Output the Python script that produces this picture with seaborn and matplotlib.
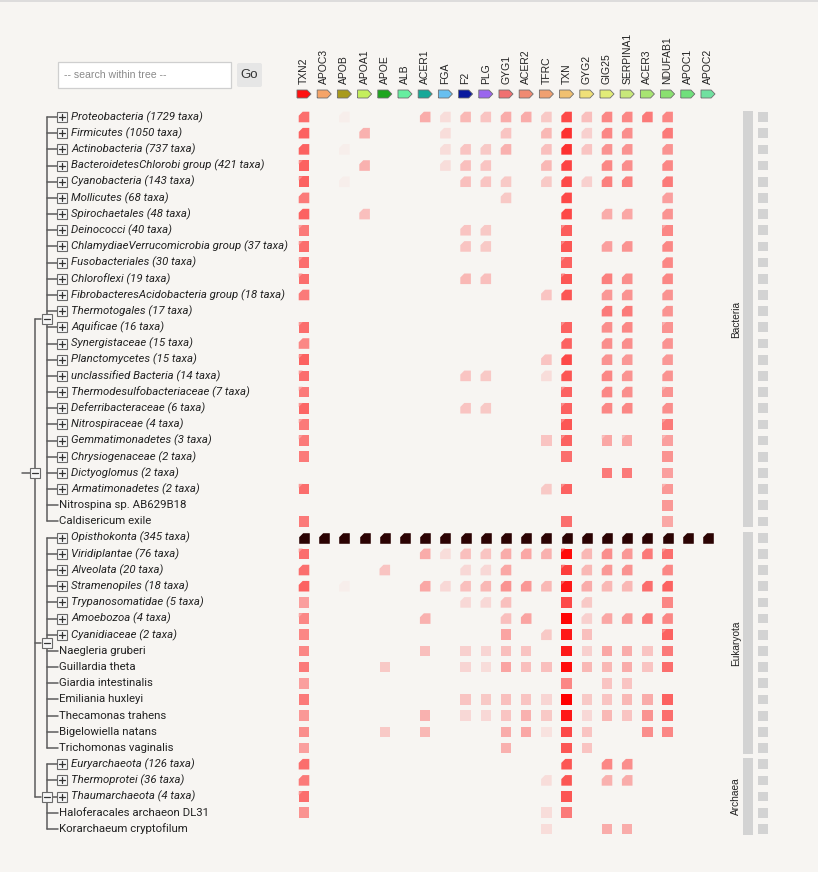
import numpy as np
import pandas as pd
import matplotlib
matplotlib.use("Agg")
import matplotlib.pyplot as plt
from matplotlib.colors import LinearSegmentedColormap
from matplotlib.patches import Rectangle, FancyBboxPatch
import seaborn as sns

# ---------------- data ----------------
genes = ["TXN2", "APOC3", "APOB", "APOA1", "APOE", "ALB", "ACER1", "FGA", "F2", "PLG",
         "GYG1", "ACER2", "TFRC", "TXN", "GYG2", "GIG25", "SERPINA1", "ACER3", "NDUFAB1",
         "APOC1", "APOC2"]
gene_colors = ["#ff1010", "#f5a468", "#a89a1c", "#c4ee5c", "#1ea51e", "#66eea0", "#18a898",
               "#68bff0", "#0a1a9e", "#9a66ee", "#f07070", "#f08a72", "#f0a070", "#f0c070",
               "#f0e078", "#e2ec78", "#c8e87a", "#a8e472", "#8ae070", "#70e07c", "#70e0a0"]

taxa = ["Proteobacteria (1729 taxa)", "Firmicutes (1050 taxa)", "Actinobacteria (737 taxa)",
        "BacteroidetesChlorobi group (421 taxa)", "Cyanobacteria (143 taxa)", "Mollicutes (68 taxa)",
        "Spirochaetales (48 taxa)", "Deinococci (40 taxa)", "ChlamydiaeVerrucomicrobia group (37 taxa)",
        "Fusobacteriales (30 taxa)", "Chloroflexi (19 taxa)", "FibrobacteresAcidobacteria group (18 taxa)",
        "Thermotogales (17 taxa)", "Aquificae (16 taxa)", "Synergistaceae (15 taxa)",
        "Planctomycetes (15 taxa)", "unclassified Bacteria (14 taxa)", "Thermodesulfobacteriaceae (7 taxa)",
        "Deferribacteraceae (6 taxa)", "Nitrospiraceae (4 taxa)", "Gemmatimonadetes (3 taxa)",
        "Chrysiogenaceae (2 taxa)", "Dictyoglomus (2 taxa)", "Armatimonadetes (2 taxa)",
        "Nitrospina sp. AB629B18", "Caldisericum exile",
        "Opisthokonta (345 taxa)", "Viridiplantae (76 taxa)", "Alveolata (20 taxa)",
        "Stramenopiles (18 taxa)", "Trypanosomatidae (5 taxa)", "Amoebozoa (4 taxa)",
        "Cyanidiaceae (2 taxa)", "Naegleria gruberi", "Guillardia theta", "Giardia intestinalis",
        "Emiliania huxleyi", "Thecamonas trahens", "Bigelowiella natans", "Trichomonas vaginalis",
        "Euryarchaeota (126 taxa)", "Thermoprotei (36 taxa)", "Thaumarchaeota (4 taxa)",
        "Haloferacales archaeon DL31", "Korarchaeum cryptofilum"]

domains = ["Bacteria", "Eukaryota", "Archaea"]
domain_sizes = [26, 14, 5]
highlight_taxon = "Opisthokonta (345 taxa)"

# score (0-100) per taxon, columns in the order of `genes`
values = [
    [55, 0, 3, 0, 0, 0, 30, 10, 25, 20, 30, 30, 18, 70, 22, 45, 45, 50, 45, 0, 0],
    [60, 0, 0, 28, 0, 0, 0, 10, 0, 0, 20, 0, 25, 80, 15, 45, 42, 0, 50, 0, 0],
    [60, 0, 3, 0, 0, 0, 0, 10, 20, 18, 28, 0, 22, 80, 20, 40, 40, 0, 40, 0, 0],
    [60, 0, 0, 28, 0, 0, 0, 10, 22, 20, 0, 0, 25, 72, 0, 45, 42, 0, 45, 0, 0],
    [60, 0, 3, 0, 0, 0, 0, 0, 22, 20, 18, 0, 18, 70, 15, 48, 48, 0, 50, 0, 0],
    [50, 0, 0, 0, 0, 0, 0, 0, 0, 0, 18, 0, 0, 70, 0, 0, 0, 0, 35, 0, 0],
    [60, 0, 0, 22, 0, 0, 0, 0, 0, 0, 0, 0, 0, 70, 0, 30, 32, 0, 40, 0, 0],
    [50, 0, 0, 0, 0, 0, 0, 0, 20, 18, 0, 0, 0, 62, 0, 0, 0, 0, 45, 0, 0],
    [55, 0, 0, 0, 0, 0, 0, 0, 20, 18, 0, 0, 0, 65, 0, 35, 40, 0, 45, 0, 0],
    [55, 0, 0, 0, 0, 0, 0, 0, 0, 0, 0, 0, 0, 60, 0, 0, 0, 0, 45, 0, 0],
    [55, 0, 0, 0, 0, 0, 0, 0, 25, 22, 0, 0, 0, 65, 0, 48, 42, 0, 45, 0, 0],
    [50, 0, 0, 0, 0, 0, 0, 0, 0, 0, 0, 0, 20, 65, 0, 38, 40, 0, 40, 0, 0],
    [0, 0, 0, 0, 0, 0, 0, 0, 0, 0, 0, 0, 0, 0, 0, 50, 50, 0, 40, 0, 0],
    [55, 0, 0, 0, 0, 0, 0, 0, 0, 0, 0, 0, 0, 60, 0, 42, 45, 0, 40, 0, 0],
    [45, 0, 0, 0, 0, 0, 0, 0, 0, 0, 0, 0, 0, 60, 0, 42, 42, 0, 40, 0, 0],
    [60, 0, 0, 0, 0, 0, 0, 0, 0, 0, 0, 0, 20, 70, 0, 40, 38, 0, 38, 0, 0],
    [55, 0, 0, 0, 0, 0, 0, 0, 20, 18, 0, 0, 10, 65, 0, 45, 40, 0, 40, 0, 0],
    [50, 0, 0, 0, 0, 0, 0, 0, 0, 0, 0, 0, 0, 60, 0, 45, 42, 0, 40, 0, 0],
    [58, 0, 0, 0, 0, 0, 0, 0, 20, 18, 0, 0, 0, 60, 0, 45, 45, 0, 42, 0, 0],
    [50, 0, 0, 0, 0, 0, 0, 0, 0, 0, 0, 0, 0, 65, 0, 0, 0, 0, 50, 0, 0],
    [50, 0, 0, 0, 0, 0, 0, 0, 0, 0, 0, 0, 20, 60, 0, 32, 32, 0, 35, 0, 0],
    [50, 0, 0, 0, 0, 0, 0, 0, 0, 0, 0, 0, 0, 55, 0, 0, 0, 0, 40, 0, 0],
    [0, 0, 0, 0, 0, 0, 0, 0, 0, 0, 0, 0, 0, 0, 0, 50, 50, 0, 35, 0, 0],
    [55, 0, 0, 0, 0, 0, 0, 0, 0, 0, 0, 0, 18, 60, 0, 0, 0, 0, 38, 0, 0],
    [0, 0, 0, 0, 0, 0, 0, 0, 0, 0, 0, 0, 0, 0, 0, 0, 0, 0, 38, 0, 0],
    [50, 0, 0, 0, 0, 0, 0, 0, 0, 0, 0, 0, 0, 55, 0, 0, 0, 0, 32, 0, 0],
    [100, 100, 100, 100, 100, 100, 100, 100, 100, 100, 100, 100, 100, 100, 100, 100, 100, 100, 100, 100, 100],
    [55, 0, 0, 0, 0, 0, 30, 10, 22, 20, 30, 32, 28, 95, 25, 42, 38, 50, 55, 0, 0],
    [55, 0, 0, 0, 20, 0, 0, 0, 12, 12, 32, 0, 0, 75, 25, 38, 40, 0, 45, 0, 0],
    [60, 0, 3, 0, 0, 0, 32, 12, 22, 25, 40, 38, 25, 90, 30, 25, 25, 55, 60, 0, 0],
    [35, 0, 0, 0, 0, 0, 0, 0, 12, 12, 22, 0, 0, 70, 18, 0, 0, 0, 45, 0, 0],
    [45, 0, 0, 0, 0, 0, 28, 0, 0, 0, 22, 33, 0, 98, 15, 32, 38, 50, 45, 0, 0],
    [45, 0, 0, 0, 0, 0, 0, 0, 0, 0, 33, 0, 18, 90, 22, 0, 0, 0, 60, 0, 0],
    [45, 0, 0, 0, 0, 0, 22, 0, 15, 13, 22, 20, 0, 90, 15, 32, 30, 20, 50, 0, 0],
    [50, 0, 0, 0, 18, 0, 0, 0, 13, 10, 33, 22, 22, 95, 25, 25, 30, 20, 55, 0, 0],
    [35, 0, 0, 0, 0, 0, 0, 0, 0, 0, 0, 0, 0, 45, 0, 20, 20, 0, 0, 0, 0],
    [50, 0, 0, 0, 0, 0, 0, 0, 20, 18, 22, 20, 13, 100, 18, 20, 25, 30, 60, 0, 0],
    [38, 0, 0, 0, 0, 0, 28, 0, 12, 12, 20, 28, 18, 90, 12, 25, 20, 40, 55, 0, 0],
    [42, 0, 0, 0, 18, 0, 25, 0, 0, 0, 30, 32, 8, 70, 20, 0, 0, 42, 45, 0, 0],
    [35, 0, 0, 0, 0, 0, 0, 0, 0, 0, 28, 0, 0, 65, 20, 0, 0, 0, 0, 0, 0],
    [55, 0, 0, 0, 0, 0, 0, 0, 0, 0, 0, 0, 0, 65, 0, 45, 42, 0, 0, 0, 0],
    [50, 0, 0, 0, 0, 0, 0, 0, 0, 0, 0, 0, 10, 65, 0, 28, 30, 0, 0, 0, 0],
    [55, 0, 0, 0, 0, 0, 0, 0, 0, 0, 0, 0, 0, 65, 0, 0, 0, 0, 0, 0, 0],
    [40, 0, 0, 0, 0, 0, 0, 0, 0, 0, 0, 0, 10, 50, 0, 0, 0, 0, 0, 0, 0],
    [0, 0, 0, 0, 0, 0, 0, 0, 0, 0, 0, 0, 10, 0, 0, 30, 30, 0, 0, 0, 0],
]

# cell glyph: c = corner cut, l = lighter corner, s = full square
# groups: TXN2 | APOC3..ALB | ACER1..TFRC | TXN | GYG2..ACER3 | NDUFAB1 | APOC1 APOC2
shapes = [
    "c ccccc ccccccc c cccc c cc", "c ccccc ccccccc c cccc c cc", "c ccccc ccccccc c cccc c cc",
    "l ccccc ccccccc c cccc c cc", "l ccccc ccccccc c cccc c cc", "c ccccc ccccccc c cccc c cc",
    "c ccccc ccccccc c cccc c cc", "l ccccc ccccccc l cccc l cc", "l ccccc ccccccc l cccc c cc",
    "l ccccc ccccccc l cccc c cc", "l ccccc ccccccc l cccc c cc", "c ccccc ccccccc c cccc c cc",
    "c ccccc ccccccc c cccc c cc", "l ccccc ccccccc l cccc l cc", "c ccccc ccccccc c cccc c cc",
    "l ccccc ccccccc c cccc c cc", "l ccccc ccccccc c cccc c cc", "l ccccc ccccccc l cccc l cc",
    "l ccccc ccccccc l cccc c cc", "l ccccc ccccccc l cccc l cc", "l ccccc ccccccs l llll l cc",
    "s sssss sssssss s ssss s ss", "s sssss sssssss s ssss s ss", "l ccccc ccccccc l cccc l cc",
    "s sssss sssssss s ssss s ss", "s sssss sssssss s ssss s ss",
    "c ccccc ccccccc c cccc c cc", "l ccccc ccccccc l cccc l cc", "c ccccc ccccccc l cccc c cc",
    "c ccccc ccccccc l cccc c cc", "s ccccc ccccccc s cccc s cc", "l ccccc ccccccc s cccc c cc",
    "s sssss ssssssc s ssss l ss", "s sssss sssssss s ssss s ss", "s sssss sssssss s ssss s ss",
    "s sssss sssssss s ssss s ss", "s sssss sssssss s ssss s ss", "s sssss sssssss s ssss s ss",
    "s sssss sssssss s ssss s ss", "s sssss sssssss s ssss s ss",
    "c ccccc ccccccc c cccc c cc", "c ccccc ccccccc c cccc c cc", "l ccccc ccccccc s cccc c cc",
    "s sssss sssssss s ssss s ss", "s sssss sssssss s ssss s ss",
]

# ---------------- style / layout ----------------
sns.set_style("white")
plt.rcParams["font.family"] = ["Roboto", "DejaVu Sans"]
BG = "#f7f5f2"
W, H = 818, 872
ROW_PX = 16.18
COL_PX = 20.2
TOP = 117 - ROW_PX / 2
LEFT = 304 - COL_PX / 2
NR, NC = len(taxa), len(genes)

fig = plt.figure(figsize=(W / 100, H / 100), dpi=100)
fig.patch.set_facecolor(BG)


def px_axes(x0, y0, w, h):
    a = fig.add_axes([x0 / W, 1 - (y0 + h) / H, w / W, h / H])
    a.set_facecolor("none")
    return a


# background overlay (pixel coordinates) for widgets
ax_bg = px_axes(0, 0, W, H)
ax_bg.set_xlim(0, W)
ax_bg.set_ylim(H, 0)
ax_bg.axis("off")
ax_bg.plot([0, W], [0.6, 0.6], color="#d8d8d8", lw=1.2)
ax_bg.add_patch(Rectangle((57.5, 62.5), 173, 26, facecolor="white", edgecolor="#cfcfcf", lw=0.9))
ax_bg.text(64, 75.5, "-- search within tree --", color="#8a8a8a", fontsize=7.6,
           family=["Liberation Sans", "DejaVu Sans"], va="center", ha="left")
ax_bg.add_patch(FancyBboxPatch((237, 63), 25, 24, boxstyle="round,pad=0,rounding_size=2",
                               facecolor="#e6e6e6", edgecolor="none"))
ax_bg.text(249.5, 75.5, "Go", color="#333333", fontsize=9.5,
           family=["Liberation Sans", "DejaVu Sans"], va="center", ha="center")

# heatmap axes: x = gene index, y = taxon index
hm_h = NR * ROW_PX
ax = px_axes(LEFT, TOP, NC * COL_PX, hm_h)

cmap = LinearSegmentedColormap.from_list("score", [BG, "#ff0000"])
cut_marker = [(-1, -1), (1, -1), (1, 1), (-0.25, 1), (-1, 0.25), (-1, -1)]
tri_marker = [(-1, 1), (-0.25, 1), (-1, 0.25), (-1, 1)]

recs = []
for r, name in enumerate(taxa):
    sh = shapes[r].replace(" ", "")
    for c, g in enumerate(genes):
        v = values[r][c]
        if v > 0:
            recs.append({"row": r, "col": c, "v": v / 100.0, "shape": sh[c],
                         "highlight": name == highlight_taxon})
df = pd.DataFrame(recs)
cell_s = 58

normal = df[~df["highlight"]]
for code, mk in [("s", "s"), ("l", "s"), ("c", cut_marker)]:
    sub = normal[normal["shape"] == code]
    if len(sub):
        sns.scatterplot(data=sub, x="col", y="row", hue="v", palette=cmap, hue_norm=(0, 1),
                        marker=mk, s=cell_s, linewidth=0, legend=False, ax=ax, zorder=3)
lite = normal[normal["shape"] == "l"].copy()
lite["v"] = lite["v"] * 0.68
sns.scatterplot(data=lite, x="col", y="row", hue="v", palette=cmap, hue_norm=(0, 1),
                marker=tri_marker, s=cell_s, linewidth=0, legend=False, ax=ax, zorder=4)
hl = df[df["highlight"]]
sns.scatterplot(data=hl, x="col", y="row", color="#2b0303", marker=cut_marker, s=cell_s,
                linewidth=0, legend=False, ax=ax, zorder=3)

# gene arrows in header
arrow_marker = [(-1, -0.57), (0.45, -0.57), (1, 0), (0.45, 0.57), (-1, 0.57), (-1, -0.57)]
hdr = pd.DataFrame({"col": range(NC), "row": [(94 - 117) / ROW_PX] * NC, "gene": genes})
sns.scatterplot(data=hdr, x="col", y="row", hue="gene", palette=dict(zip(genes, gene_colors)),
                marker=arrow_marker, s=102, edgecolor="#6e6e6e", linewidth=0.6,
                legend=False, ax=ax, clip_on=False, zorder=5)

ax.set_xlim(-0.5, NC - 0.5)
ax.set_ylim(NR - 0.5, -0.5)
ax.set_xticks(range(NC))
ax.set_xticklabels(genes, rotation=90, fontsize=7.5, color="#222222",
                   family=["Liberation Sans", "DejaVu Sans"])
ax.xaxis.tick_top()
ax.tick_params(axis="x", length=0, pad=18)
ax.set_yticks([])
ax.set_xlabel("")
ax.set_ylabel("")
for sp in ax.spines.values():
    sp.set_visible(False)

# tree axes: x in pixels, y = taxon index
ax_t = px_axes(0, TOP, LEFT, hm_h)
ax_t.set_xlim(0, LEFT)
ax_t.set_ylim(NR - 0.5, -0.5)
ax_t.axis("off")
LC = "#5c5c5c"
LW = 1.1
FS = 8.2


def node_box(cx, cy, plus):
    bh = 10 / ROW_PX
    ax_t.add_patch(Rectangle((cx - 5, cy - bh / 2), 10, bh, facecolor="#f6f6f6",
                             edgecolor="#6a6a6a", lw=0.8, zorder=4))
    ax_t.plot([cx - 3, cx + 3], [cy, cy], color="#333333", lw=0.9, zorder=5)
    if plus:
        ax_t.plot([cx, cx], [cy - 3 / ROW_PX, cy + 3 / ROW_PX], color="#333333", lw=0.9, zorder=5)


start = 0
mids = []
for dname, n in zip(domains, domain_sizes):
    first, last = start, start + n - 1
    mid = (first + last) / 2
    mids.append(mid)
    ax_t.plot([47, 47], [first, last], color=LC, lw=LW, zorder=2)
    for r in range(first, last + 1):
        name = taxa[r]
        grp = name.endswith("taxa)")
        if grp:
            ax_t.plot([47, 57], [r, r], color=LC, lw=LW, zorder=2)
            node_box(62, r, True)
            ax_t.text(71, r, name, fontsize=FS, style="italic", color="#222222",
                      va="center", ha="left")
        else:
            ax_t.plot([47, 58], [r, r], color=LC, lw=LW, zorder=2)
            ax_t.text(59, r, name, fontsize=FS, color="#222222", va="center", ha="left")
    ax_t.plot([35, 41], [mid, mid], color=LC, lw=LW, zorder=2)
    node_box(46.5, mid, False)
    start += n

root = (0 + NR - 1) / 2
ax_t.plot([35, 35], [mids[0], mids[-1]], color=LC, lw=LW, zorder=2)
ax_t.plot([22, 30], [root, root], color=LC, lw=LW, zorder=2)
node_box(35, root, False)

# right side: domain bars and per-row squares
ax_r = px_axes(720, TOP, 60, hm_h)
ax_r.set_xlim(720, 780)
ax_r.set_ylim(NR - 0.5, -0.5)
ax_r.axis("off")
start = 0
for dname, n in zip(domains, domain_sizes):
    first, last = start, start + n - 1
    ax_r.bar(747.8, (last - first) + 0.72, bottom=first - 0.36, width=9.5,
             color="#d3d3d3", linewidth=0)
    ax_r.text(736, (first + last) / 2, dname, rotation=90, fontsize=7.3, color="#222222",
              family=["Liberation Sans", "DejaVu Sans"], ha="center", va="center")
    start += n
ax_r.bar([762.8] * NR, [0.6] * NR, bottom=[r - 0.3 for r in range(NR)], width=9.5,
         color="#d3d3d3", linewidth=0)

fig.savefig("out.png", dpi=100, facecolor=BG)
